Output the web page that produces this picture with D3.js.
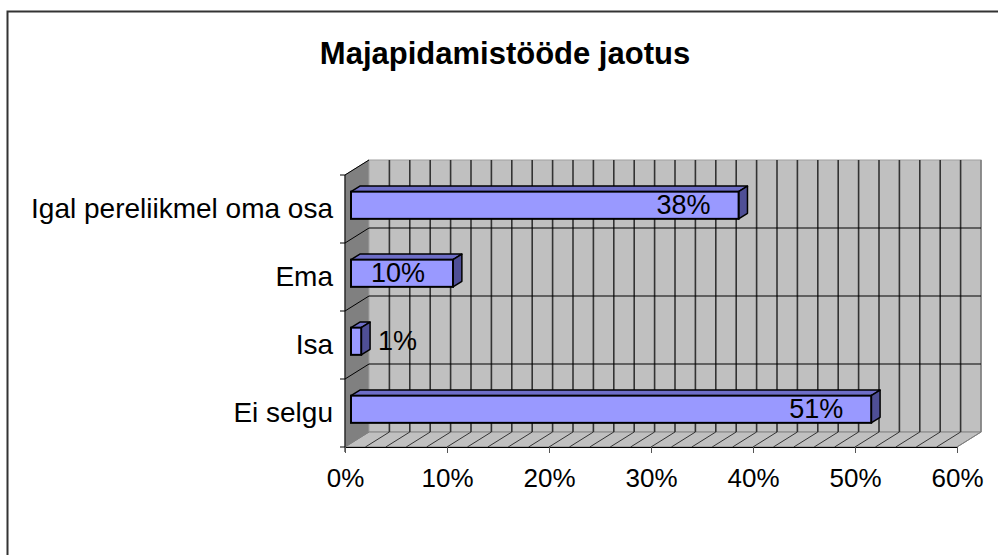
<!DOCTYPE html>
<html>
<head>
<meta charset="utf-8">
<script src="https://cdn.jsdelivr.net/npm/d3@7"></script>
<style>
  body { margin: 0; background: #fff; }
  text { font-family: "Liberation Sans", Arial, sans-serif; fill: #000; }
</style>
</head>
<body>
<div id="chart"></div>
<script>
// chart data, top to bottom
var categories = ["Igal pereliikmel oma osa", "Ema", "Isa", "Ei selgu"];
var values = [38, 10, 1, 51];
var valueLabels = ["38%", "10%", "1%", "51%"];
var tickValues = [0, 10, 20, 30, 40, 50, 60];
var title = "Majapidamistööde jaotus";

// size of svg and plot area (front plane)
var width = 998, height = 555;
var plot = {left: 345, right: 957, top: 175, bottom: 447};

// 3d depth offset of the walls
var depth = {dx: 24, dy: -15};

// bars sit between these fractions of the depth
var barFront = 0.25, barBack = 0.62;

var svg = d3.select("#chart")
    .append("svg")
    .attr("width", width)
    .attr("height", height);

// outer frame of the chart
svg.append("rect")
    .attr("x", 7.5)
    .attr("y", 11.5)
    .attr("width", 1010)
    .attr("height", 600)
    .attr("fill", "#fff")
    .attr("stroke", "#333")
    .attr("stroke-width", 2);

// scales
var x = d3.scaleLinear()
    .domain([0, 60])
    .range([plot.left, plot.right]);

var y = d3.scaleBand()
    .domain(categories)
    .range([plot.top, plot.bottom])
    .paddingInner(0.6)
    .paddingOuter(0.3);

var minorTicks = d3.range(0, 61, 2);

function pts(arr) {
  return arr.map(function(p) { return p[0] + "," + p[1]; }).join(" ");
}

// side wall
svg.append("polygon")
    .attr("points", pts([
      [plot.left, plot.top],
      [plot.left + depth.dx, plot.top + depth.dy],
      [plot.left + depth.dx, plot.bottom + depth.dy],
      [plot.left, plot.bottom]]))
    .attr("fill", "#808080")
    .attr("stroke", "#808080");

// back wall
svg.append("rect")
    .attr("x", plot.left + depth.dx)
    .attr("y", plot.top + depth.dy)
    .attr("width", plot.right - plot.left)
    .attr("height", plot.bottom - plot.top)
    .attr("fill", "#c0c0c0")
    .attr("stroke", "#a0a0a0");

// floor
svg.append("polygon")
    .attr("points", pts([
      [plot.left, plot.bottom],
      [plot.right, plot.bottom],
      [plot.right + depth.dx, plot.bottom + depth.dy],
      [plot.left + depth.dx, plot.bottom + depth.dy]]))
    .attr("fill", "#c0c0c0")
    .attr("stroke", "#808080");

// vertical gridlines on the back wall
svg.append("g")
    .selectAll("line")
    .data(minorTicks.slice(1))
    .enter().append("line")
    .attr("x1", function(d) { return x(d) + depth.dx; })
    .attr("x2", function(d) { return x(d) + depth.dx; })
    .attr("y1", plot.top + depth.dy)
    .attr("y2", plot.bottom + depth.dy)
    .attr("stroke", function(d) { return d === 60 ? "#808080" : "#333"; })
    .attr("stroke-width", 1.6);

// floor gridlines going back
svg.append("g")
    .selectAll("line")
    .data(minorTicks)
    .enter().append("line")
    .attr("x1", function(d) { return x(d); })
    .attr("x2", function(d) { return x(d) + depth.dx; })
    .attr("y1", plot.bottom)
    .attr("y2", plot.bottom + depth.dy)
    .attr("stroke", function(d) { return d === 0 || d === 60 ? "#808080" : "#333"; })
    .attr("stroke-width", 1);

// category boundaries
var bounds = categories.map(function(c) { return y(c) - y.step() * y.paddingInner() / 2; });
bounds.push(plot.bottom);

// horizontal gridlines on back wall and side wall
var hlines = svg.append("g");
bounds.slice(1, -1).forEach(function(b) {
  hlines.append("line")
      .attr("x1", plot.left + depth.dx)
      .attr("x2", plot.right + depth.dx)
      .attr("y1", b + depth.dy)
      .attr("y2", b + depth.dy)
      .attr("stroke", "#000")
      .attr("stroke-width", 1.2);
});
bounds.slice(0, -1).forEach(function(b) {
  hlines.append("line")
      .attr("x1", plot.left)
      .attr("x2", plot.left + depth.dx)
      .attr("y1", b)
      .attr("y2", b + depth.dy)
      .attr("stroke", "#000")
      .attr("stroke-width", 1);
});

// y axis line with ticks
svg.append("line")
    .attr("x1", plot.left).attr("x2", plot.left)
    .attr("y1", plot.top).attr("y2", plot.bottom + 5)
    .attr("stroke", "#000");
svg.append("g")
    .selectAll("line")
    .data(bounds)
    .enter().append("line")
    .attr("x1", plot.left - 5)
    .attr("x2", plot.left)
    .attr("y1", function(d) { return d; })
    .attr("y2", function(d) { return d; })
    .attr("stroke", "#000");

// x axis with ticks
var xAxis = d3.axisBottom(x)
    .tickValues(tickValues)
    .tickSize(6)
    .tickFormat(function(d) { return d + "%"; });

var xg = svg.append("g")
    .attr("transform", "translate(0," + plot.bottom + ")")
    .call(xAxis);
xg.select(".domain").attr("stroke", "#000");
xg.selectAll(".tick line").attr("stroke", "#555");
xg.selectAll(".tick text")
    .attr("y", 40)
    .attr("dy", 0)
    .style("font-size", "26px")
    .style("font-family", "'Liberation Sans', Arial, sans-serif")
    .attr("fill", "#000");

// category labels
svg.append("g")
    .selectAll("text")
    .data(categories)
    .enter().append("text")
    .attr("x", plot.left - 12)
    .attr("y", function(d) { return y(d) + y.bandwidth() / 2 + 9; })
    .attr("text-anchor", "end")
    .style("font-size", "28px")
    .text(function(d) { return d; });

// bars: front, top and side faces
var fx = barFront * depth.dx, fy = barFront * depth.dy;
var bx = (barBack - barFront) * depth.dx, by = (barBack - barFront) * depth.dy;

var bars = svg.append("g")
    .selectAll("g")
    .data(values)
    .enter().append("g");

bars.append("polygon")
    .attr("points", function(d, i) {
      var x0 = x(0) + fx, x1 = x(d) + fx, y0 = y(categories[i]) + fy;
      return pts([[x0, y0], [x1, y0], [x1 + bx, y0 + by], [x0 + bx, y0 + by]]);
    })
    .attr("fill", "#6e6ec8")
    .attr("stroke", "#000")
    .attr("stroke-width", 1.5)
    .attr("stroke-linejoin", "round");

bars.append("polygon")
    .attr("points", function(d, i) {
      var x1 = x(d) + fx, y0 = y(categories[i]) + fy, y1 = y0 + y.bandwidth();
      return pts([[x1, y0], [x1 + bx, y0 + by], [x1 + bx, y1 + by], [x1, y1]]);
    })
    .attr("fill", "#4f4f96")
    .attr("stroke", "#000")
    .attr("stroke-width", 1.5)
    .attr("stroke-linejoin", "round");

bars.append("rect")
    .attr("x", x(0) + fx)
    .attr("y", function(d, i) { return y(categories[i]) + fy; })
    .attr("width", function(d) { return x(d) - x(0); })
    .attr("height", y.bandwidth())
    .attr("fill", "#9999ff")
    .attr("stroke", "#000")
    .attr("stroke-width", 2);

// value labels, inside near the end or right of short bars
bars.append("text")
    .attr("x", function(d) {
      return (x(d) - x(0) > 60) ? x(d) + fx - 28 : x(d) + fx + bx + 8;
    })
    .attr("y", function(d, i) { return y(categories[i]) + fy + y.bandwidth() / 2 + 9; })
    .attr("text-anchor", function(d) { return (x(d) - x(0) > 60) ? "end" : "start"; })
    .style("font-size", "27px")
    .text(function(d, i) { return valueLabels[i]; });

// chart title
svg.append("text")
    .attr("x", 505)
    .attr("y", 64)
    .attr("text-anchor", "middle")
    .style("font-size", "31px")
    .style("font-weight", "bold")
    .text(title);
</script>
</body>
</html>
